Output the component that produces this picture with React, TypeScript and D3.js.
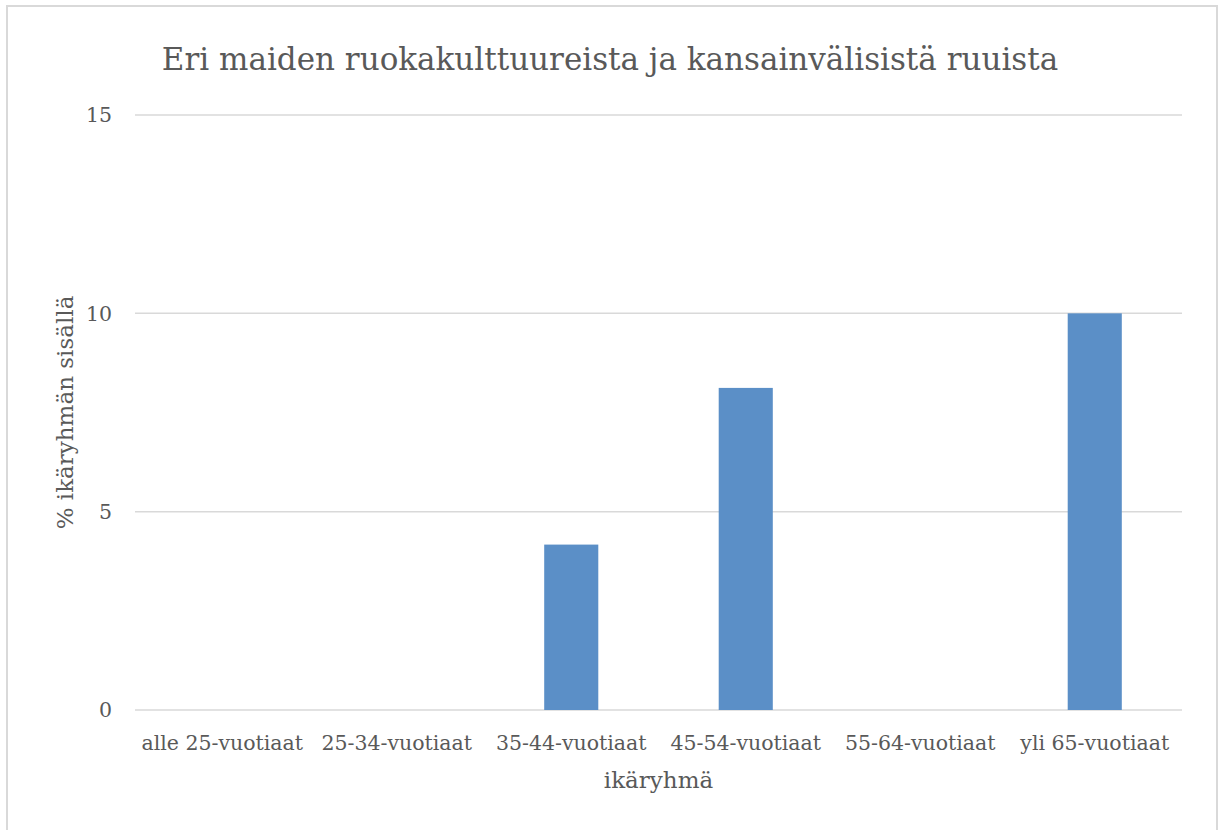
import React from "react";
import * as d3 from "d3";

const categories = [
    "alle 25-vuotiaat",
    "25-34-vuotiaat",
    "35-44-vuotiaat",
    "45-54-vuotiaat",
    "55-64-vuotiaat",
    "yli 65-vuotiaat",
];
const values = [0, 0, 4.17, 8.12, 0, 10];
const yTicks = [0, 5, 10, 15];

const WIDTH = 1226;
const HEIGHT = 830;
const MARGIN = { top: 115, right: 44, bottom: 120, left: 135 };
const FONT = "'DejaVu Serif', serif";
const TEXT = "#595959";
const GRID = "#d9d9d9";

export default function App() {
    const boundsWidth = WIDTH - MARGIN.left - MARGIN.right;
    const boundsHeight = HEIGHT - MARGIN.top - MARGIN.bottom;

    const xScale = d3.scaleBand().domain(categories).range([0, boundsWidth]).paddingInner(0).paddingOuter(0);
    const yScale = d3.scaleLinear().domain([0, 15]).range([boundsHeight, 0]);
    const barWidth = xScale.bandwidth() * 0.31;

    return (
        <svg width={WIDTH} height={HEIGHT} style={{ position: "absolute", left: 0, top: 0, background: "#fff" }} fontFamily={FONT}>
            {/* outer frame */}
            <rect x={7} y={6} width={1210} height={840} fill="none" stroke={GRID} strokeWidth={2} />
            <text x={610} y={70} textAnchor="middle" fontSize={31} fill={TEXT}>
                Eri maiden ruokakulttuureista ja kansainvälisistä ruuista
            </text>
            <g transform={`translate(${MARGIN.left},${MARGIN.top})`}>
                {yTicks.map((t) => (
                    <g key={t}>
                        <line x1={0} x2={boundsWidth} y1={yScale(t)} y2={yScale(t)} stroke={GRID} strokeWidth={1.5} />
                        <text x={-23} y={yScale(t)} dy="0.35em" textAnchor="end" fontSize={20.5} fill={TEXT}>
                            {t}
                        </text>
                    </g>
                ))}
                {categories.map((c, i) => (
                    <rect
                        key={c}
                        x={(xScale(c) ?? 0) + (xScale.bandwidth() - barWidth) / 2}
                        y={yScale(values[i])}
                        width={barWidth}
                        height={boundsHeight - yScale(values[i])}
                        fill="#5b8fc7"
                    />
                ))}
                {categories.map((c) => (
                    <text
                        key={c}
                        x={(xScale(c) ?? 0) + xScale.bandwidth() / 2}
                        y={boundsHeight + 40}
                        textAnchor="middle"
                        fontSize={20.5}
                        fill={TEXT}
                    >
                        {c}
                    </text>
                ))}
                <text x={boundsWidth / 2} y={boundsHeight + 78} textAnchor="middle" fontSize={23} fill={TEXT}>
                    ikäryhmä
                </text>
                <text
                    transform={`translate(${-70},${boundsHeight / 2}) rotate(-90)`}
                    textAnchor="middle"
                    dy="0.35em"
                    fontSize={23}
                    fill={TEXT}
                >
                    % ikäryhmän sisällä
                </text>
            </g>
        </svg>
    );
}
